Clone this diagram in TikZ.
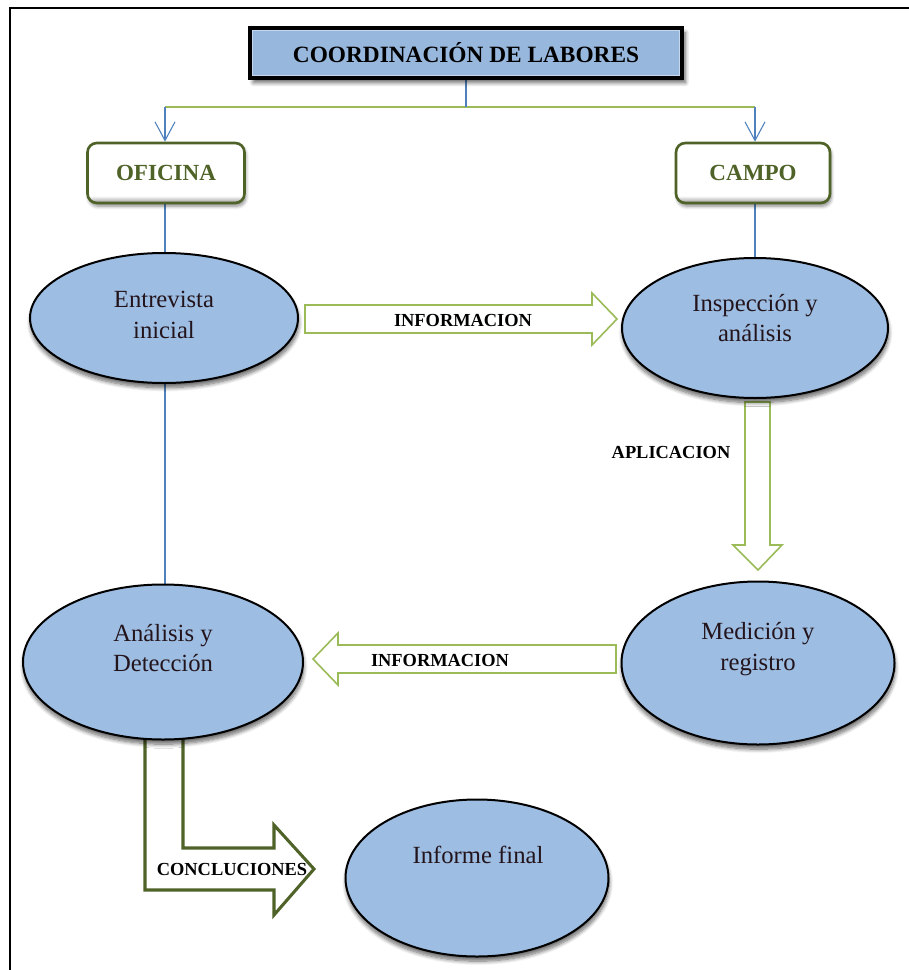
\documentclass[tikz,border=0pt]{standalone}
\usepackage{fontspec}
\setmainfont{Liberation Serif}
\usetikzlibrary{arrows.meta,shapes.geometric,shadows.blur}
\definecolor{ovalblue}{RGB}{157,189,226}
\definecolor{titleblue}{RGB}{151,183,221}
\definecolor{titlerim}{RGB}{196,215,238}
\definecolor{olivedark}{RGB}{79,98,40}
\definecolor{olivelight}{RGB}{155,187,89}
\definecolor{linkblue}{RGB}{79,129,189}
\definecolor{inkdark}{RGB}{35,20,28}
\def\pxu{0.75pt}
% white box with a grey rim at the bottom edge
\pgfdeclareverticalshading{boxbevel}{100bp}{color(0bp)=(black!40); color(25bp)=(black!40); color(31bp)=(white); color(100bp)=(white)}
\pgfdeclarelayer{back}
\pgfsetlayers{back,main}
\begin{document}
\begin{tikzpicture}[x=0.75pt,y=-0.75pt,
  oval/.style={ellipse, draw=black, line width=1.5pt, fill=ovalblue, inner sep=0pt,
    blur shadow={shadow xshift=0.5pt, shadow yshift=-3.5pt, shadow blur radius=3pt, shadow blur steps=8, shadow opacity=60}},
  ovaltext/.style={align=center, text=inkdark, font=\fontsize{18.5}{23}\selectfont},
  headbox/.style={draw=black, line width=2.4pt, fill=titleblue, inner sep=0pt,
    font=\bfseries\fontsize{17.5}{20}\selectfont,
    blur shadow={shadow xshift=2.5pt, shadow yshift=-3.5pt, shadow blur radius=3pt, shadow blur steps=8, shadow opacity=60}},
  placebox/.style={draw=olivedark, line width=2pt, rounded corners=7pt, shading=boxbevel,
    inner sep=0pt, text=olivedark, font=\bfseries\fontsize{17.3}{20}\selectfont,
    blur shadow={shadow xshift=1pt, shadow yshift=-2.5pt, shadow blur radius=2.5pt, shadow blur steps=6, shadow opacity=45}},
  bluelink/.style={draw=linkblue, line width=0.8pt},
  greenlink/.style={draw=olivelight, line width=1.3pt},
  flowarrow/.style={draw=olivelight, line width=1.2pt, fill=white, line join=miter},
  bentarrow/.style={draw=olivedark, line width=2.3pt, fill=white, line join=miter},
  arrowlabel/.style={text=black, font=\bfseries\fontsize{13.8}{16}\selectfont}
]
\useasboundingbox (0,0) rectangle (909,970);

% page frame (left and top edges)
\draw[line width=1.6pt] (10,970) -- (10,8) -- (909,8);

% title and the two places of work
\node[headbox, minimum width=432*\pxu, minimum height=50*\pxu] (title) at (466,53) {};
\draw[titlerim, line width=1.2pt] ([xshift=3pt,yshift=-3pt]title.north west) rectangle ([xshift=-3pt,yshift=3pt]title.south east);
\node[font=\bfseries\fontsize{17.5}{20}\selectfont] (titletext) at (title.center) {COORDINACIÓN DE LABORES};
\node[placebox, minimum width=157*\pxu, minimum height=60*\pxu] (ofi) at (166,173) {OFICINA};
\node[placebox, minimum width=154*\pxu, minimum height=60*\pxu] (cam) at (753,173) {CAMPO};

% process stages
\node[oval, minimum width=268*\pxu, minimum height=130*\pxu] (e1) at (164,318) {};
\node[oval, minimum width=266*\pxu, minimum height=140*\pxu] (e2) at (755,328) {};
\node[oval, minimum width=280*\pxu, minimum height=155*\pxu] (e3) at (163,662) {};
\node[oval, minimum width=273*\pxu, minimum height=163*\pxu] (e4) at (758,663) {};
\node[oval, minimum width=263*\pxu, minimum height=157*\pxu] (e5) at (477,878) {};

\node[ovaltext] (t1) at (164,315) {Entrevista\\inicial};
\node[ovaltext] (t2) at (755,318) {Inspección y\\análisis};
\node[ovaltext] (t3) at (163,648) {Análisis y\\Detección};
\node[ovaltext] (t4) at (758,649) {Medición y\\registro};
\node[ovaltext] (t5) at (478,855) {Informe final};

% labels of the block arrows
\node[arrowlabel] (lb1) at (463,320) {INFORMACION};
\node[arrowlabel] (lb2) at (671,452) {APLICACION};
\node[arrowlabel] (lb3) at (440,660) {INFORMACION};
\node[arrowlabel] (lb4) at (232,869) {CONCLUCIONES};

\coordinate (jl) at (165,107);
\coordinate (jr) at (755,107);

\begin{pgfonlayer}{back}
  % distribution from the title
  \draw[greenlink] (jl) -- (jr);
  \draw[bluelink] (title.south) -- (title.south |- jl);
  \draw[bluelink, -{Straight Barb[length=14pt,width=15pt]}] (jl) -- (jl |- ofi.north);
  \draw[bluelink, -{Straight Barb[length=14pt,width=15pt]}] (jr) -- (jr |- cam.north);
  % vertical links
  \draw[bluelink] (jl |- ofi.south) -- (jl |- e1.north);
  \draw[bluelink] (jr |- cam.south) -- (jr |- e2.north);
  \draw[bluelink] (jl |- e1.south) -- (jl |- e3.north);

  % block arrows
  \draw[flowarrow] (305,305) -- (592,305) -- (592,293) -- (617,319) -- (592,345) -- (592,333) -- (305,333) -- cycle;
  \draw[flowarrow] (745,402) -- (770,402) -- (770,545) -- (782,545) -- (758,570) -- (733,545) -- (745,545) -- cycle;
  \draw[flowarrow] (616,645) -- (338,645) -- (338,633) -- (313,659) -- (338,685) -- (338,673) -- (616,673) -- cycle;
  \draw[bentarrow] (145,700) -- (145,890) -- (274,890) -- (274,915) -- (314,869) -- (274,825) -- (274,848) -- (183,848) -- (183,700) -- cycle;
\end{pgfonlayer}
\end{tikzpicture}
\end{document}
